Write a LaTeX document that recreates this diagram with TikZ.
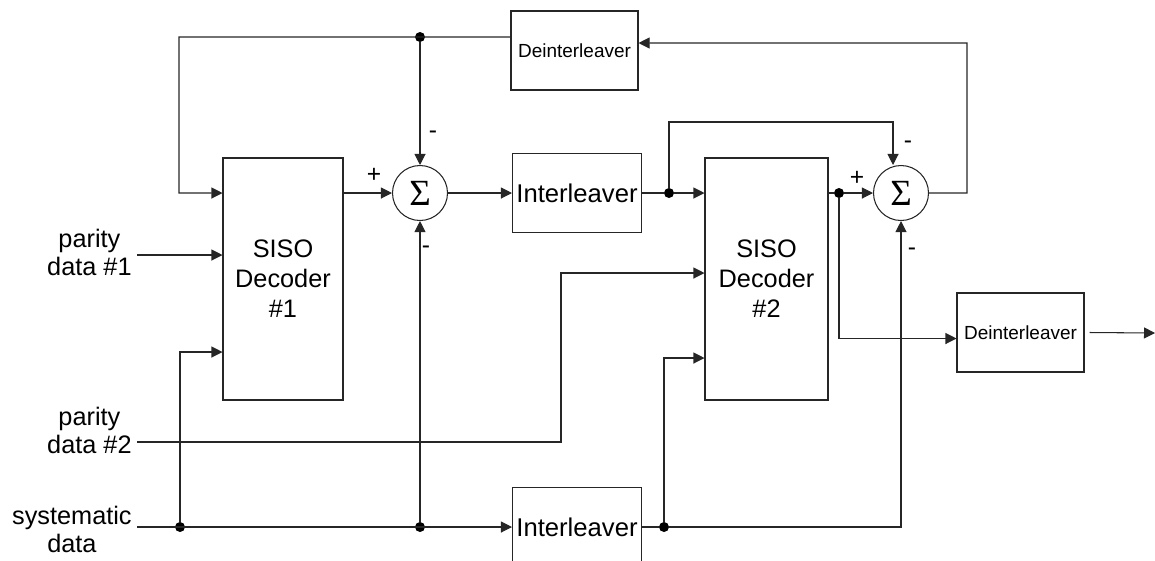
\documentclass[tikz,border=0pt]{standalone}
\usepackage{fontspec}
\setmainfont{Liberation Sans}
\newfontfamily\sigmafont{Liberation Serif}
\usetikzlibrary{arrows.meta,positioning,calc}

\begin{document}
\begin{tikzpicture}[x=0.2mm, y=-0.2mm,
    blockbox/.style={
        draw=black!85, line width=0.6pt, minimum width=24mm, minimum height=48.4mm,
        align=center, font=\fontsize{14.4}{17}\selectfont, inner sep=0pt
    },
    ilbox/.style={
        draw=black!85, line width=0.6pt, minimum width=25.8mm, minimum height=15.8mm,
        font=\fontsize{14.6}{17}\selectfont, inner sep=0pt
    },
    deilbox/.style={
        draw=black!85, line width=0.6pt, minimum width=25.4mm, minimum height=15.8mm,
        font=\fontsize{10.8}{13}\selectfont, inner sep=0pt
    },
    sumnode/.style={circle, draw=black!85, line width=0.6pt, minimum size=11mm,
        inner sep=0pt, font=\sigmafont\fontsize{21}{21}\selectfont},
    jdot/.style={circle, fill=black, inner sep=0pt, minimum size=2mm},
    wire/.style={line width=0.6pt, draw=black!85},
    arr/.style={-{Triangle[length=2.2mm, width=2.2mm]}},
    inlabel/.style={anchor=east, align=center, font=\fontsize{14.4}{16}\selectfont, inner sep=1mm},
    signlbl/.style={font=\fontsize{14}{14}\selectfont, inner sep=0pt}
]
    \useasboundingbox (0,0) rectangle (1155,560);

    % decoders and summers
    \node[blockbox] (dec1) at (283,279) {SISO\\Decoder\\\#1};
    \node[blockbox, minimum width=24.6mm] (dec2) at (766.5,279) {SISO\\Decoder\\\#2};
    \node[sumnode] (sum1) at (420,193) {Σ};
    \node[sumnode] (sum2) at (901,193) {Σ};

    % (de)interleavers
    \node[ilbox] (il1) at (577,193) {Interleaver};
    \node[ilbox] (il2) at (577,527) {Interleaver};
    \node[deilbox] (deil1) at (574.5,50.5) {Deinterleaver};
    \node[deilbox] (deil2) at (1020.5,332.5) {Deinterleaver};

    % inputs
    \node[inlabel] (par1) at (137,252) {parity\\data \#1};
    \node[inlabel] (par2) at (137,430) {parity\\data \#2};
    \node[inlabel] (sys) at (137,529) {systematic\\data};
    \coordinate (in1) at (137,255);
    \coordinate (in2) at (137,442);
    \coordinate (in3) at (137,527);

    % junctions and corners
    \node[jdot] (dA) at (420,37) {};
    \node[jdot] (dB) at (669,193) {};
    \node[jdot] (dC) at (839,193) {};
    \node[jdot] (dD) at (180,527) {};
    \node[jdot] (dE) at (420,527) {};
    \node[jdot] (dF) at (664,527) {};
    \coordinate (fbA) at (179,37);
    \coordinate (fbB) at (893,122);
    \coordinate (fbC) at (967,43);
    \coordinate (fbD) at (561,442);
    \coordinate (outE) at (1155,333);

    % signs
    \node[signlbl] (pl1) at (374,175) {+};
    \node[signlbl] (mi1) at (433,135) {-};
    \node[signlbl] (mi2) at (426,250) {-};
    \node[signlbl] (pl2) at (857,178) {+};
    \node[signlbl] (mi3) at (908,145) {-};
    \node[signlbl] (mi4) at (912,252) {-};

    % first half
    \draw[wire,arr] (in1) -- (dec1.west |- in1);
    \draw[wire,arr] (in3) -- (il2.west |- in3);
    \draw[wire,arr] (dD) |- ([yshift=-14.6mm]dec1.west);
    \draw[wire,arr] (dE) -- (sum1);
    \draw[wire,arr] (dec1.east |- sum1) -- (sum1);
    \draw[wire,arr] (sum1) -- (il1);

    % feedback from deinterleaver
    \draw[wire,arr] ([yshift=2.7mm]deil1.west) -- (dA.center) -- (fbA) |- (dec1.west |- sum1);
    \draw[wire,arr] (dA) -- (sum1);

    % second half
    \draw[wire] (il1) -- (dB);
    \draw[wire,arr] (dB) -- (dec2.west |- dB);
    \draw[wire,arr] (dB) |- (fbB) -- (fbB |- sum2.north);
    \draw[wire,arr] (in2) -- (fbD) |- ([yshift=1.2mm]dec2.west);
    \draw[wire] (il2) -- (dF);
    \draw[wire,arr] (dF) |- ([yshift=-15.8mm]dec2.west);
    \draw[wire,arr] (dF) -| (sum2);
    \draw[wire] (dec2.east |- dC) -- (dC);
    \draw[wire,arr] (dC) -- (sum2);
    \draw[wire,arr] (sum2) -| (fbC) -- ([yshift=1.5mm]deil1.east);

    % output
    \draw[wire,arr] (dC) |- ([yshift=-1.2mm]deil2.west);
    \draw[wire,arr] ([xshift=1mm]deil2.east) -- (outE);
\end{tikzpicture}
\end{document}
